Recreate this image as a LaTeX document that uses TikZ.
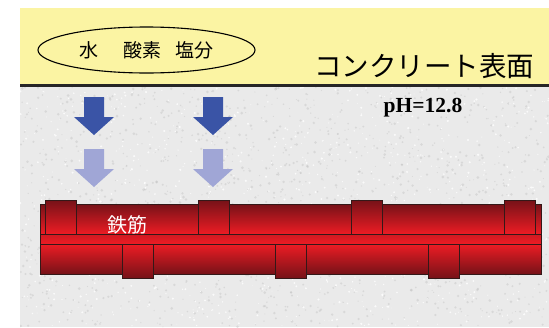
\documentclass[tikz,border=0pt]{standalone}
\usepackage{fontspec}
\setmainfont{Liberation Serif}
\newfontfamily\jpfont{Noto Sans CJK JP}
\usetikzlibrary{positioning, shapes.geometric}
\definecolor{paper}{RGB}{234,234,234}
\definecolor{skin}{RGB}{251,244,163}
\definecolor{inflow}{RGB}{58,84,166}
\definecolor{inflowLight}{RGB}{160,166,214}
\definecolor{barDark}{RGB}{118,18,24}
\definecolor{barRed}{RGB}{237,28,36}
\definecolor{barEdge}{RGB}{52,24,24}
\tikzset{x=1pt, y=-1pt, barUp/.style={draw=barEdge, line width=0.8pt, top color=barDark, middle color=barRed!80!barDark, bottom color=barRed}, barDown/.style={draw=barEdge, line width=0.8pt, top color=barRed, middle color=barRed!80!barDark, bottom color=barDark}}
\tikzstyle{jptext}=[inner sep=0pt, font=\jpfont]

\begin{document}
\begin{tikzpicture}
\useasboundingbox (0,0) rectangle (549,327);
\fill[white] (0,0) rectangle (549,327);
\fill[skin] (20,8) rectangle (549,85);
\fill[paper] (20,85) rectangle (549,327);
\begin{scope}
\clip (20,87) rectangle (549,327);
\pgfmathsetseed{11}
\foreach \i in {1,...,1400} {\fill[gray!55, opacity=0.35] (20+529*rnd, 87+240*rnd) circle (0.5+rnd);}
\foreach \i in {1,...,900} {\fill[white, opacity=0.8] (20+529*rnd, 87+240*rnd) circle (0.4+0.8*rnd);}
\end{scope}
\draw[line width=3pt, black!85] (20,85) -- (549,85);
\node[draw, ellipse, line width=1.1pt, minimum width=217, minimum height=46, inner sep=0pt] (ion-ellipse) at (146.5,50) {};
\node[jptext, font=\jpfont\fontsize{19}{19}\selectfont] (ion-text) at (ion-ellipse.center) {水\hspace{26pt}酸素\hspace{14pt}塩分};
\node[jptext, font=\jpfont\fontsize{27.5}{27.5}\selectfont] (surface-text) at (424,66) {コンクリート表面};
\node[inner sep=0pt, font=\bfseries\fontsize{21.5}{21.5}\selectfont] (ph-text) at (423,108) {pH=12.8};
\foreach \cx in {94, 213} {
\fill[inflow] (\cx-10,97) -- (\cx+10,97) -- (\cx+10,117) -- (\cx+20,117) -- (\cx,135) -- (\cx-20,117) -- (\cx-10,117) -- cycle;
\fill[inflowLight] (\cx-10,149) -- (\cx+10,149) -- (\cx+10,169) -- (\cx+20,169) -- (\cx,187) -- (\cx-20,169) -- (\cx-10,169) -- cycle;
}
\draw[barUp] (40,204) rectangle (541,234);
\foreach \rx in {45, 198, 351, 504} {\draw[barUp] (\rx,200) rectangle ++(31,34);}
\draw[draw=barEdge, line width=1pt, top color=barRed!75!barDark, bottom color=barRed] (40,234) rectangle (541,244);
\draw[barDown] (40,244) rectangle (541,274);
\foreach \rx in {122, 275, 428} {\draw[barDown] (\rx,244) rectangle ++(31,34);}
\node[jptext, text=white, font=\jpfont\fontsize{20}{20}\selectfont] (rebar-text) at (127.5,225) {鉄筋};
\end{tikzpicture}
\end{document}
